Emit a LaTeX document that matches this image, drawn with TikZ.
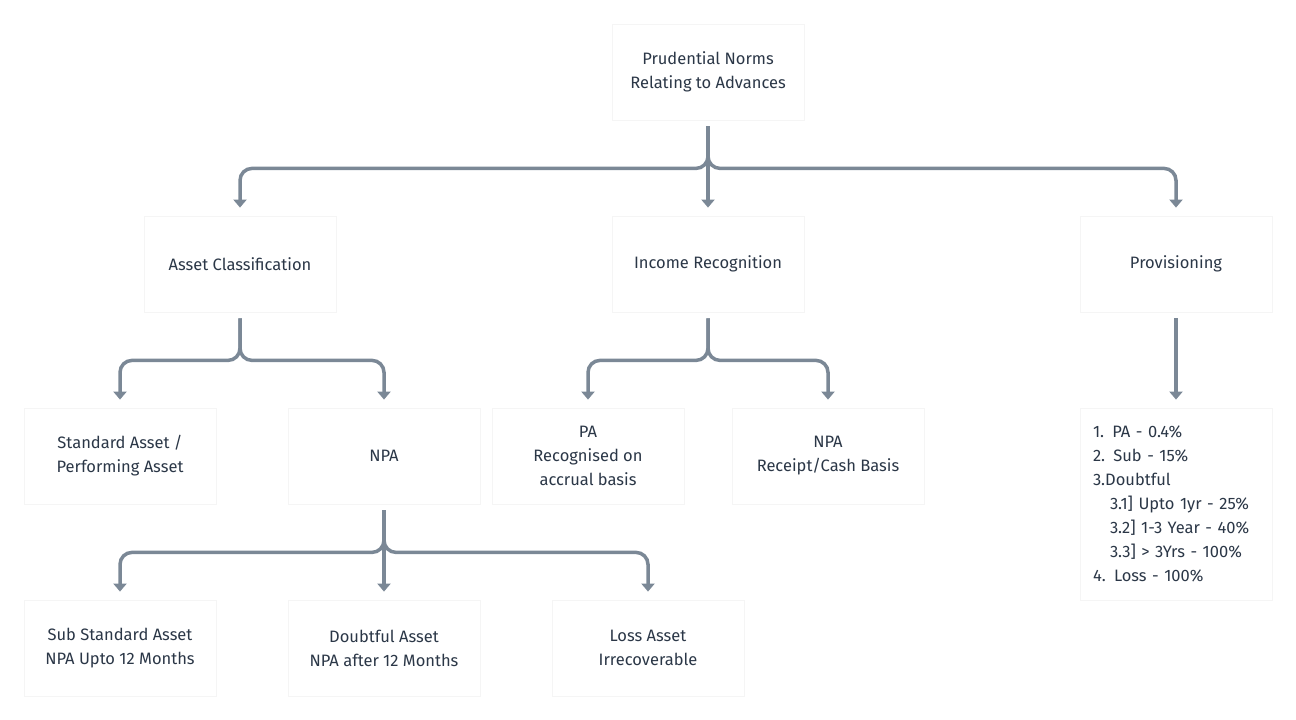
\documentclass[tikz,border=0pt]{standalone}
\usepackage{fontspec}
\setmainfont{Fira Sans}
\usepackage{xcolor}
\usepackage{tikz}
\usetikzlibrary{arrows.meta}

\definecolor{inkslate}{HTML}{2B3747}
\definecolor{linkslate}{HTML}{7B8896}

\begin{document}
\begin{tikzpicture}[x=1pt, y=-1pt,
  card/.style={draw=black!4, line width=0.8pt, fill=white, rectangle, minimum width=192pt, minimum height=96pt,
    font=\fontsize{16.5}{24}\selectfont, text=inkslate, align=center, inner sep=0pt},
  listcard/.style={card, minimum height=192pt, text width=166pt, inner xsep=13pt, align=left},
  link/.style={draw=linkslate, line width=3.5pt, rounded corners=12pt, shorten <=6pt, shorten >=8pt,
    -{Triangle[width=13pt,length=8pt]}}
]
\useasboundingbox (0,0) rectangle (1296,720);

% Root
\node[card] (root) at (708,72) {Prudential Norms\\Relating to Advances};

% Second level
\node[card] (asset) at (240,264) {Asset Classification};
\node[card] (income) at (708,264) {Income Recognition};
\node[card] (prov) at (1176,264) {Provisioning};

% Third level
\node[card] (std) at (120,456) {Standard Asset /\\Performing Asset};
\node[card] (npa) at (384,456) {NPA};
\node[card] (pa) at (588,456) {PA\\Recognised on\\accrual basis};
\node[card] (npacash) at (828,456) {NPA\\Receipt/Cash Basis};
\node[listcard] (provlist) at (1176,504) {1. PA - 0.4\%\\2. Sub - 15\%\\3.Doubtful\\
  \hspace*{17pt}3.1] Upto 1yr - 25\%\\\hspace*{17pt}3.2] 1-3 Year - 40\%\\
  \hspace*{17pt}3.3] > 3Yrs - 100\%\\4. Loss - 100\%};

% Fourth level
\node[card] (substd) at (120,648) {Sub Standard Asset\\NPA Upto 12 Months};
\node[card] (doubt) at (384,648) {Doubtful Asset\\NPA after 12 Months};
\node[card] (loss) at (648,648) {Loss Asset\\Irrecoverable};

% Connectors
\draw[link] (root.south) -- ++(0,48) -| (asset.north);
\draw[link] (root.south) -- (income.north);
\draw[link] (root.south) -- ++(0,48) -| (prov.north);

\draw[link] (asset.south) -- ++(0,48) -| (std.north);
\draw[link] (asset.south) -- ++(0,48) -| (npa.north);

\draw[link] (income.south) -- ++(0,48) -| (pa.north);
\draw[link] (income.south) -- ++(0,48) -| (npacash.north);

\draw[link] (prov.south) -- (provlist.north);

\draw[link] (npa.south) -- ++(0,48) -| (substd.north);
\draw[link] (npa.south) -- (doubt.north);
\draw[link] (npa.south) -- ++(0,48) -| (loss.north);

\end{tikzpicture}
\end{document}
